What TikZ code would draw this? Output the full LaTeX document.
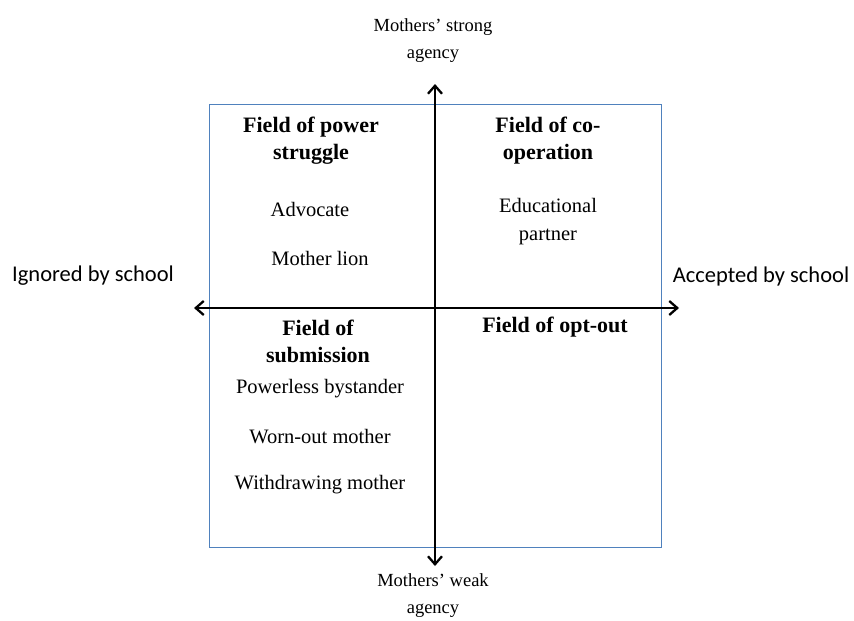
\documentclass[tikz,border=0pt]{standalone}
\usepackage{fontspec}
\setmainfont{Liberation Serif}
\newfontfamily\calfont{Carlito}
\usetikzlibrary{arrows.meta}
\definecolor{boxblue}{HTML}{4F81BD}
\begin{document}
\begin{tikzpicture}[x=1pt,y=-1pt,
  axis/.style={line width=2.5pt,-{Straight Barb[length=8pt,width=14pt,line width=2.3pt]}},
  headtxt/.style={font=\fontsize{22}{27}\selectfont\bfseries,align=center,inner sep=0pt},
  bodytxt/.style={font=\fontsize{20.5}{28}\selectfont,align=center,inner sep=0pt},
  agtxt/.style={font=\fontsize{18.5}{27}\selectfont,align=center,inner sep=0pt},
  schooltxt/.style={font=\calfont\fontsize{22.5}{25}\selectfont,inner sep=0pt}]
\useasboundingbox (0,0) rectangle (854,621);
\draw[boxblue,line width=1pt] (209,104) rectangle (661,547);
\coordinate (ctr) at (435,308);
\coordinate (top) at (435,84);
\coordinate (bot) at (435,566);
\coordinate (lft) at (194,308);
\coordinate (rgt) at (679,308);
\draw[axis] (ctr) -- (top);
\draw[axis] (ctr) -- (bot);
\draw[axis] (ctr) -- (lft);
\draw[axis] (ctr) -- (rgt);
\node[agtxt] (strong) at (433,41) {Mothers’ strong\\agency};
\node[agtxt] (weak) at (433,596) {Mothers’ weak\\agency};
\node[schooltxt] (ign) at (93,276) {Ignored by school};
\node[schooltxt] (acc) at (761,276) {Accepted by school};
\node[headtxt] (power) at (311,141) {Field of power\\struggle};
\node[bodytxt] (advo) at (310,209) {Advocate};
\node[bodytxt] (lion) at (320,258) {Mother lion};
\node[headtxt] (coop) at (548,141) {Field of co-\\operation};
\node[bodytxt] (edu) at (548,222) {Educational\\partner};
\node[headtxt] (subm) at (318,341) {Field of\\submission};
\node[bodytxt] (pb) at (320,389) {Powerless bystander};
\node[bodytxt] (wo) at (320,437) {Worn-out mother};
\node[bodytxt] (wd) at (320,485) {Withdrawing mother};
\node[headtxt] (opt) at (555,327) {Field of opt-out};
\end{tikzpicture}
\end{document}
